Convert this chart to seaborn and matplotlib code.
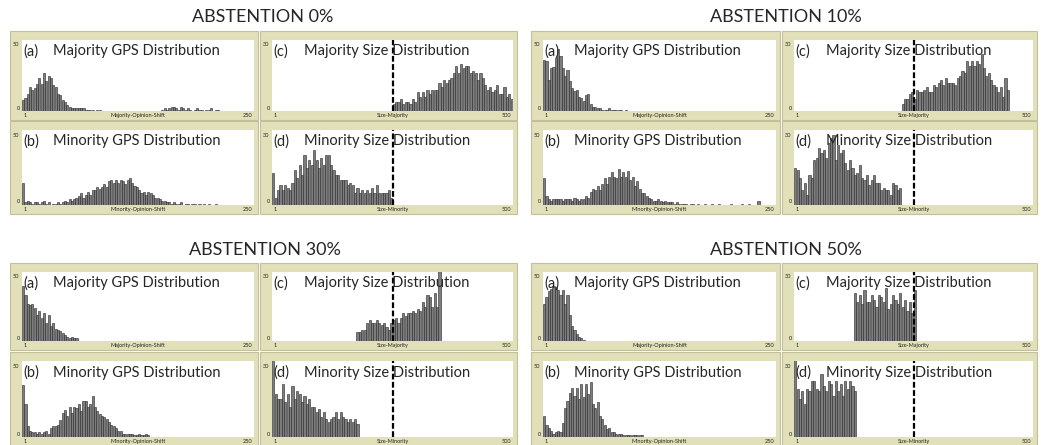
import numpy as np
import pandas as pd
import matplotlib
matplotlib.use("Agg")
import matplotlib.pyplot as plt
import seaborn as sns
from matplotlib.patches import Rectangle

sns.set_theme(style="white")
plt.rcParams["font.family"] = ["Lato", "DejaVu Sans"]

# ---------------------------------------------------------------- data
GPS_BIN = 2.5      # opinion-shift histogram bin width
SIZE_BIN = 5       # group-size histogram bin width
GPS_MAX, GPS_YMAX = 250, 50
SIZE_MAX, SIZE_YMAX = 500, 30
SIZE_MARK = 250    # half of the population

titles = ["ABSTENTION 0%", "ABSTENTION 10%", "ABSTENTION 30%", "ABSTENTION 50%"]

# abstention 0%
maj_gps_0_start = 0
maj_gps_0 = [8, 9, 12, 17, 15, 16, 19, 23, 19, 27, 21, 25, 23, 18, 17, 12, 11, 8, 6, 4,
             3, 2, 2, 2, 2, 2, 2, 1, 1, 1, 1, 0, 1, 1, 0, 0, 0, 0, 0, 0,
             0, 0, 0, 0, 0, 0, 0, 0, 0, 0, 0, 0, 0, 0, 0, 0, 0, 0, 0, 0,
             1, 2, 1, 2, 3, 3, 2, 1, 3, 2, 1, 2, 1, 0, 1, 2, 1, 1, 0, 1,
             1, 2, 0, 1, 1]
min_gps_0_start = 0
min_gps_0 = [15, 2, 3, 2, 1, 2, 2, 1, 2, 3, 1, 2, 0, 1, 1, 2, 1, 2, 3, 2,
             4, 3, 4, 5, 6, 8, 5, 7, 9, 7, 10, 10, 12, 11, 12, 14, 12, 16, 17, 15,
             17, 15, 17, 16, 14, 17, 18, 15, 13, 12, 10, 8, 9, 7, 9, 8, 7, 5, 5, 4,
             3, 3, 2, 2, 1, 2, 1, 1, 2, 0, 1, 1, 0, 1, 1, 0, 1, 0, 1, 0,
             1, 0, 0, 1]
maj_size_0_start = 250
maj_size_0 = [3, 4, 4, 5, 3, 4, 4, 3, 5, 4, 8, 6, 8, 6, 9, 7, 9, 9, 9, 12,
              10, 13, 12, 13, 14, 16, 19, 16, 20, 18, 19, 19, 16, 17, 16, 13, 16, 14, 11, 9,
              10, 8, 9, 11, 7, 7, 10, 6, 7, 5]
min_size_0_start = 0
min_size_0 = [13, 3, 6, 8, 6, 8, 7, 6, 9, 14, 11, 16, 12, 20, 15, 18, 16, 22, 18, 15,
              19, 16, 20, 20, 16, 14, 12, 12, 10, 10, 10, 8, 9, 8, 5, 7, 5, 6, 5, 6,
              5, 7, 5, 8, 5, 5, 5, 5, 6, 3]

# abstention 10%
maj_gps_10_start = 0
maj_gps_10 = [36, 35, 22, 30, 31, 37, 44, 39, 30, 25, 29, 21, 16, 14, 15, 10, 9, 7, 11, 12,
              5, 3, 3, 2, 2, 1, 1, 1, 2, 1, 1, 1, 1, 1, 0, 1]
min_gps_10_start = 0
min_gps_10 = [18, 6, 4, 3, 4, 4, 4, 4, 3, 4, 4, 4, 3, 5, 4, 3, 4, 4, 6, 5,
              9, 11, 10, 13, 10, 14, 18, 14, 19, 22, 19, 18, 24, 19, 22, 19, 23, 17, 19, 13,
              16, 11, 8, 8, 6, 5, 4, 3, 3, 4, 3, 2, 3, 2, 2, 2, 1, 2, 1, 1,
              1, 1, 0, 1, 1, 0, 1, 0, 0, 1, 0, 0, 1, 0, 0, 1, 0, 0, 0, 0,
              1, 0, 0, 0, 0, 1, 0, 0, 1, 0, 0, 0, 3]
maj_size_10_start = 225
maj_size_10 = [3, 5, 5, 7, 8, 5, 9, 8, 8, 9, 10, 8, 8, 11, 10, 12, 13, 11, 14, 12,
               12, 12, 11, 14, 15, 17, 16, 21, 19, 21, 19, 21, 20, 24, 18, 15, 16, 13, 11, 10,
               8, 10, 6, 14, 9]
min_size_10_start = 0
min_size_10 = [15, 14, 11, 6, 9, 4, 12, 11, 18, 19, 23, 21, 22, 19, 25, 27, 28, 18, 24, 21,
               22, 17, 14, 18, 15, 12, 13, 16, 11, 10, 12, 8, 10, 12, 9, 9, 6, 7, 6, 6,
               4, 9, 8, 6, 7]

# abstention 30%
maj_gps_30_start = 0
maj_gps_30 = [40, 33, 27, 26, 27, 24, 19, 22, 17, 20, 13, 19, 11, 13, 9, 8, 7, 6, 4, 3,
              2, 3, 2, 2]
min_gps_30_start = 0
min_gps_30 = [34, 22, 7, 4, 3, 3, 2, 3, 2, 3, 4, 2, 6, 7, 7, 8, 11, 16, 18, 14,
              20, 16, 20, 19, 22, 17, 24, 24, 20, 22, 27, 20, 17, 15, 14, 13, 12, 10, 8, 7,
              6, 4, 4, 2, 2, 2, 2, 2, 1, 1, 2, 1, 1, 2, 1]
maj_size_30_start = 175
maj_size_30 = [4, 4, 5, 5, 8, 9, 8, 8, 9, 8, 7, 8, 6, 5, 8, 9, 10, 8, 10, 12,
               11, 12, 12, 13, 12, 14, 13, 17, 15, 20, 19, 15, 21, 15, 34]
min_size_30_start = 0
min_size_30 = [33, 17, 15, 15, 21, 14, 17, 12, 20, 15, 18, 17, 14, 16, 13, 15, 12, 12, 10, 11,
               8, 10, 7, 6, 7, 8, 10, 7, 10, 8, 7, 6, 7, 6, 7, 5]

# abstention 50%
maj_gps_50_start = 0
maj_gps_50 = [27, 32, 36, 38, 40, 39, 37, 33, 37, 27, 33, 19, 11, 8, 5, 3, 2, 1]
min_gps_50_start = 0
min_gps_50 = [14, 8, 6, 4, 2, 3, 4, 3, 9, 19, 24, 29, 32, 27, 32, 25, 35, 26, 35, 28,
              36, 22, 19, 23, 14, 12, 8, 5, 6, 3, 3, 2, 2, 2, 1, 1, 1, 1, 1, 1,
              1, 1, 1]
maj_size_50_start = 125
maj_size_50 = [21, 17, 20, 16, 22, 17, 17, 20, 18, 15, 20, 19, 17, 23, 14, 16, 20, 18, 16, 21,
               15, 18, 13, 17, 12, 22]
min_size_50_start = 0
min_size_50 = [32, 19, 15, 18, 13, 19, 18, 22, 22, 19, 18, 25, 20, 18, 22, 21, 16, 22, 18, 21,
               16, 22, 19, 22, 20, 18]

# ---------------------------------------------------------------- style
W, H = 1043, 445
TAN = "#e2e0b8"
TAN_EDGE = "#c2c09c"
BAR = "#7d7d7d"
BAR_EDGE = "#262626"

fig = plt.figure(figsize=(W / 100, H / 100), dpi=100)
fig.patch.set_facecolor("white")


def fx(x):
    return x / W


def fy(y):
    return 1 - y / H


def draw_hist(ax, start, binw, counts):
    n = len(counts)
    centers = start + binw * np.arange(n) + binw / 2
    frame = pd.DataFrame({"value": centers, "count": counts})
    sns.histplot(data=frame, x="value", weights="count",
                 binwidth=binw, binrange=(start, start + binw * n), shrink=0.9, ax=ax,
                 color=BAR, edgecolor=BAR_EDGE, linewidth=0.4, alpha=1.0)
    for p in ax.patches:
        if p.get_height() <= 0:
            p.set_visible(False)


def panel(box, letter, name, xlabel, start, counts, kind):
    x0, y0, x1, y1 = box
    fig.add_artist(Rectangle((fx(x0), fy(y1)), fx(x1 - x0), (y1 - y0) / H,
                             transform=fig.transFigure, facecolor=TAN,
                             edgecolor=TAN_EDGE, lw=0.8, zorder=0))
    L, R, T, B = x0 + 12, x1 - 4, y0 + 9, y1 - 9
    ax = fig.add_axes([fx(L), fy(B), fx(R - L), (B - T) / H])
    ax.set_facecolor("white")
    if kind == "gps":
        binw, xmax, ymax = GPS_BIN, GPS_MAX, GPS_YMAX
    else:
        binw, xmax, ymax = SIZE_BIN, SIZE_MAX, SIZE_YMAX
    draw_hist(ax, start, binw, counts)
    if kind == "size":
        ax.axvline(SIZE_MARK, color="black", lw=1.6, ls=(0, (2.6, 1.1)), zorder=3)
    ax.set_xlim(0, xmax)
    ax.set_ylim(0, ymax)
    ax.set(xlabel="", ylabel="", xticks=[], yticks=[])
    for s in ax.spines.values():
        s.set_visible(False)

    # heading inside the plot
    ty = fy(T + 11.5)
    fig.text(fx(L + 1), ty, letter, fontsize=10.5, va="center", ha="left", zorder=5)
    fig.text(fx(L + 31 if kind == "gps" else L + 32), ty, name, fontsize=10.5,
             va="center", ha="left", zorder=5)

    # small axis annotations
    small = dict(fontsize=4, color="#222222")
    fig.text(fx(x0 + 3), fy(T + 5), str(ymax), va="center", ha="left", **small)
    fig.text(fx(L - 2), fy(B - 3), "0", va="center", ha="right", **small)
    ly = fy(y1 - 4.5)
    fig.text(fx(L + 2), ly, "1", va="center", ha="left", **small)
    fig.text(fx(R - 2), ly, str(xmax), va="center", ha="right", **small)
    fig.text(fx((L + R) / 2), ly, xlabel, va="center", ha="center", **small)


groups = [
    dict(title=titles[0], cx=263, ty=17, cols=((10, 258), (260, 517)),
         rows=((31, 120), (121, 214)),
         data=((maj_gps_0_start, maj_gps_0), (min_gps_0_start, min_gps_0),
               (maj_size_0_start, maj_size_0), (min_size_0_start, min_size_0))),
    dict(title=titles[1], cx=786, ty=17, cols=((531, 780), (782, 1037)),
         rows=((31, 120), (121, 214)),
         data=((maj_gps_10_start, maj_gps_10), (min_gps_10_start, min_gps_10),
               (maj_size_10_start, maj_size_10), (min_size_10_start, min_size_10))),
    dict(title=titles[2], cx=265, ty=250, cols=((10, 258), (260, 517)),
         rows=((263, 350), (352, 446)),
         data=((maj_gps_30_start, maj_gps_30), (min_gps_30_start, min_gps_30),
               (maj_size_30_start, maj_size_30), (min_size_30_start, min_size_30))),
    dict(title=titles[3], cx=786, ty=250, cols=((531, 780), (782, 1037)),
         rows=((263, 350), (352, 446)),
         data=((maj_gps_50_start, maj_gps_50), (min_gps_50_start, min_gps_50),
               (maj_size_50_start, maj_size_50), (min_size_50_start, min_size_50))),
]

labels = [("(a)", "Majority GPS Distribution", "Majority-Opinion-Shift", "gps"),
          ("(b)", "Minority GPS Distribution", "Minority-Opinion-Shift", "gps"),
          ("(c)", "Majority Size Distribution", "Size-Majority", "size"),
          ("(d)", "Minority Size Distribution", "Size-Minority", "size")]

for g in groups:
    fig.text(fx(g["cx"]), fy(g["ty"]), g["title"], fontsize=13, ha="center", va="center")
    boxes = [(g["cols"][0][0], g["rows"][0][0], g["cols"][0][1], g["rows"][0][1]),
             (g["cols"][0][0], g["rows"][1][0], g["cols"][0][1], g["rows"][1][1]),
             (g["cols"][1][0], g["rows"][0][0], g["cols"][1][1], g["rows"][0][1]),
             (g["cols"][1][0], g["rows"][1][0], g["cols"][1][1], g["rows"][1][1])]
    for box, (letter, name, xlabel, kind), (start, counts) in zip(boxes, labels, g["data"]):
        panel(box, letter, name, xlabel, start, counts, kind)

fig.savefig("out.png", dpi=100, facecolor="white")
